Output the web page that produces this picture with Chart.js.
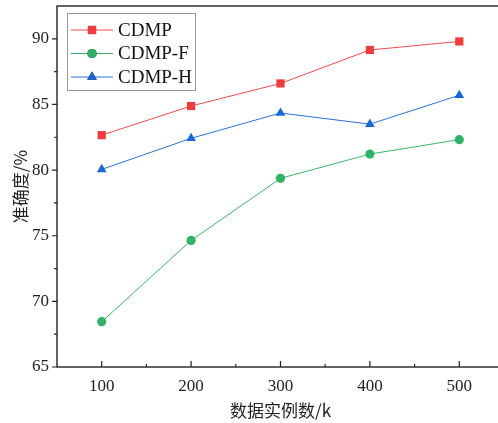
<!DOCTYPE html>
<html>
<head>
<meta charset="utf-8">
<script src="https://cdn.jsdelivr.net/npm/chart.js@4"></script>
<style>
  html, body { margin: 0; padding: 0; background: #fff; overflow: hidden; }
  #wrap { width: 510px; height: 423px; }
</style>
</head>
<body>
<div id="wrap"><canvas id="line-chart" width="510" height="423"></canvas></div>
<script>
var sizes = [100, 200, 300, 400, 500];
var cdmp = [82.66, 84.88, 86.6, 89.15, 89.8];
var cdmpF = [68.45, 74.64, 79.37, 81.22, 82.32];
var cdmpH = [80.05, 82.42, 84.35, 83.5, 85.7];
var yTicks = [65, 70, 75, 80, 85, 90];
var seriesNames = ['CDMP', 'CDMP-F', 'CDMP-H'];

var serif = "'Liberation Serif', 'Times New Roman', serif";
var cjk = "'Noto Sans CJK SC', sans-serif";

function toPoints(vals) {
    return sizes.map(function (s, i) { return { x: s, y: vals[i] }; });
}

// frame, inward/outward tick marks and the boxed legend
var framePlugin = {
    id: 'frame',
    afterDraw: function (chart) {
        var ctx = chart.ctx;
        var a = chart.chartArea;
        var xs = chart.scales.x, ys = chart.scales.y;
        ctx.save();
        ctx.strokeStyle = '#222';
        ctx.lineWidth = 1.4;
        ctx.strokeRect(a.left, a.top, a.right - a.left, a.bottom - a.top);

        ctx.lineWidth = 1.2;
        ctx.beginPath();
        sizes.forEach(function (v) {
            var px = xs.getPixelForValue(v);
            ctx.moveTo(px, a.bottom); ctx.lineTo(px, a.bottom - 6);
            var mx = xs.getPixelForValue(v + 50);
            ctx.moveTo(mx, a.bottom); ctx.lineTo(mx, a.bottom - 3);
        });
        yTicks.forEach(function (v) {
            var py = ys.getPixelForValue(v);
            ctx.moveTo(a.left, py); ctx.lineTo(a.left - 5, py);
            var my = ys.getPixelForValue(v + 2.5);
            if (my > a.top) { ctx.moveTo(a.left, my); ctx.lineTo(a.left - 3, my); }
        });
        ctx.stroke();

        // legend
        var lx = a.left + 10, ly = a.top + 7;
        ctx.strokeStyle = '#999';
        ctx.lineWidth = 1;
        ctx.strokeRect(lx + 0.5, ly + 0.5, 128, 77);
        ctx.font = '19px ' + serif;
        ctx.textBaseline = 'middle';
        chart.data.datasets.forEach(function (ds, i) {
            var cy = ly + 17 + i * 23.5;
            ctx.strokeStyle = ds.borderColor;
            ctx.lineWidth = 1;
            ctx.beginPath();
            ctx.moveTo(lx + 4, cy); ctx.lineTo(lx + 46, cy);
            ctx.stroke();
            Chart.helpers.drawPoint(ctx, {
                pointStyle: ds.pointStyle, radius: ds.pointRadius, borderWidth: 0
            }, lx + 25, cy);
            ctx.fillStyle = ds.pointBackgroundColor;
            ctx.fill();
            ctx.fillStyle = '#111';
            ctx.fillText(ds.label, lx + 51, cy + 1);
        });
        ctx.restore();
    }
};

var lineData = {
    datasets: [{
        label: seriesNames[0],
        data: toPoints(cdmp),
        borderColor: '#ef4b4b',
        pointBackgroundColor: '#f03c3c',
        pointStyle: 'rect',
        pointRadius: 5.8
    }, {
        label: seriesNames[1],
        data: toPoints(cdmpF),
        borderColor: '#3cb46e',
        pointBackgroundColor: '#2fb266',
        pointStyle: 'circle',
        pointRadius: 4.6
    }, {
        label: seriesNames[2],
        data: toPoints(cdmpH),
        borderColor: '#2a72dc',
        pointBackgroundColor: '#1966db',
        pointStyle: 'triangle',
        pointRadius: 5.6
    }]
};
lineData.datasets.forEach(function (ds) {
    ds.borderWidth = 1;
    ds.pointBorderWidth = 0;
    ds.pointBorderColor = ds.pointBackgroundColor;
    ds.fill = false;
    ds.tension = 0;
});

var lineConfig = {
    type: 'line',
    data: lineData,
    plugins: [framePlugin],
    options: {
        responsive: false,
        animation: false,
        layout: { padding: { top: 6, right: 6, left: 0, bottom: 0 } },
        plugins: { legend: { display: false }, tooltip: { enabled: false } },
        scales: {
            x: {
                type: 'linear',
                min: 50, max: 550,
                afterBuildTicks: function (s) { s.ticks = sizes.map(function (v) { return { value: v }; }); },
                afterFit: function (s) { s.height = 56; s.paddingLeft = 0; s.paddingRight = 0; },
                grid: { display: false, drawTicks: false },
                border: { display: false },
                ticks: { color: '#222', padding: 9, font: { family: serif, size: 17 } },
                title: {
                    display: true, text: '数据实例数/k', color: '#222',
                    font: { family: cjk, size: 17 }, padding: { top: 0, bottom: 2 }
                }
            },
            y: {
                type: 'linear',
                min: 65, max: 92.5,
                afterBuildTicks: function (s) { s.ticks = yTicks.map(function (v) { return { value: v }; }); },
                afterFit: function (s) { s.width = 57; s.paddingTop = 0; s.paddingBottom = 0; },
                grid: { display: false, drawTicks: false },
                border: { display: false },
                ticks: { color: '#222', padding: 8, font: { family: serif, size: 17 } },
                title: {
                    display: true, text: '准确度/%', color: '#222',
                    font: { family: cjk, size: 17 }, padding: { top: 10, bottom: 4 }
                }
            }
        }
    }
};

var lineContext = document.getElementById('line-chart').getContext('2d');
window.myLine = new Chart(lineContext, lineConfig);
</script>
</body>
</html>
